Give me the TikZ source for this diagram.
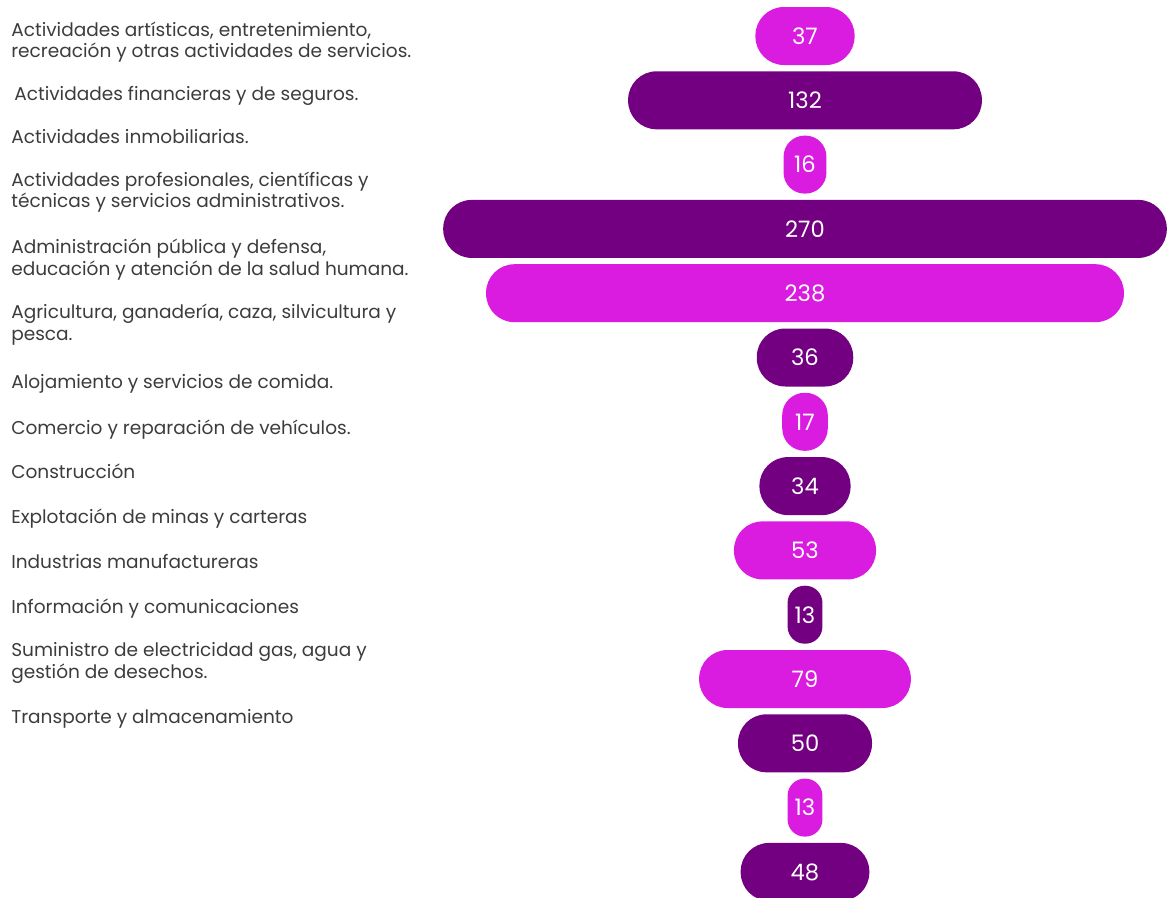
\documentclass[tikz,border=0pt]{standalone}
\usepackage{fontspec}
\setmainfont{Poppins}
\usepackage{tikz}
\usetikzlibrary{math}

\definecolor{rosa}{RGB}{218,27,224}
\definecolor{morado}{RGB}{114,0,128}
\definecolor{gristexto}{RGB}{60,60,60}

\tikzset{
    etiqueta/.style = {anchor = base west, inner sep = 0pt, align = left,
        text = gristexto, font = \fontsize{13.9}{16.1}\selectfont},
    barra/.style = {inner sep = 0pt, text = white, minimum height = 43.5pt,
        font = \fontsize{17}{20}\selectfont},
}

\begin{document}
\begin{tikzpicture}[x = 0.75pt, y = -0.75pt]
    \tikzmath{
        \xcen = 805;
        \ytop = 7;
        \paso = 64.3;
        \alto = 58;
        \escala = 2.68;
        \xval = 1167;
        \yval = 897;
    }

% marco
\useasboundingbox (0,0) rectangle (\xval,\yval);
\clip (0,0) rectangle (\xval,\yval);

% Etiquetas de los sectores (base = ultima linea)
\node[etiqueta] (sector1)  at (11,57.5)  {Actividades artísticas, entretenimiento,\\recreación y otras actividades de servicios.};
\node[etiqueta] (sector2)  at (14,100)   {Actividades financieras y de seguros.};
\node[etiqueta] (sector3)  at (11,143)   {Actividades inmobiliarias.};
\node[etiqueta] (sector4)  at (11,207.5) {Actividades profesionales, científicas y\\técnicas y servicios administrativos.};
\node[etiqueta] (sector5)  at (11,275)   {Administración pública y defensa,\\educación y atención de la salud humana.};
\node[etiqueta] (sector6)  at (11,340)   {Agricultura, ganadería, caza, silvicultura y\\pesca.};
\node[etiqueta] (sector7)  at (11,388)   {Alojamiento y servicios de comida.};
\node[etiqueta] (sector8)  at (11,434)   {Comercio y reparación de vehículos.};
\node[etiqueta] (sector9)  at (11,478.5) {Construcción};
\node[etiqueta] (sector10) at (11,523)   {Explotación de minas y carteras};
\node[etiqueta] (sector11) at (11,568)   {Industrias manufactureras};
\node[etiqueta] (sector12) at (11,613)   {Información y comunicaciones};
\node[etiqueta] (sector13) at (11,678)   {Suministro de electricidad gas, agua y\\gestión de desechos.};
\node[etiqueta] (sector14) at (11,723.5) {Transporte y almacenamiento};

% Barras centradas
\foreach \v/\c [count=\i] in {37/rosa, 132/morado, 16/rosa, 270/morado,
        238/rosa, 36/morado, 17/rosa, 34/morado, 53/rosa, 13/morado,
        79/rosa, 50/morado, 13/rosa, 48/morado} {
    \pgfmathsetmacro\ancho{0.75*\escala*\v}
    \pgfmathsetmacro\radio{0.49*min(\ancho, 0.75*\alto)}
    \node[barra, fill = \c, minimum width = \ancho pt,
          rounded corners = \radio pt] (barra\i)
          at (\xcen, {\ytop + \alto/2 + (\i-1)*\paso}) {\v};
}

\end{tikzpicture}
\end{document}
